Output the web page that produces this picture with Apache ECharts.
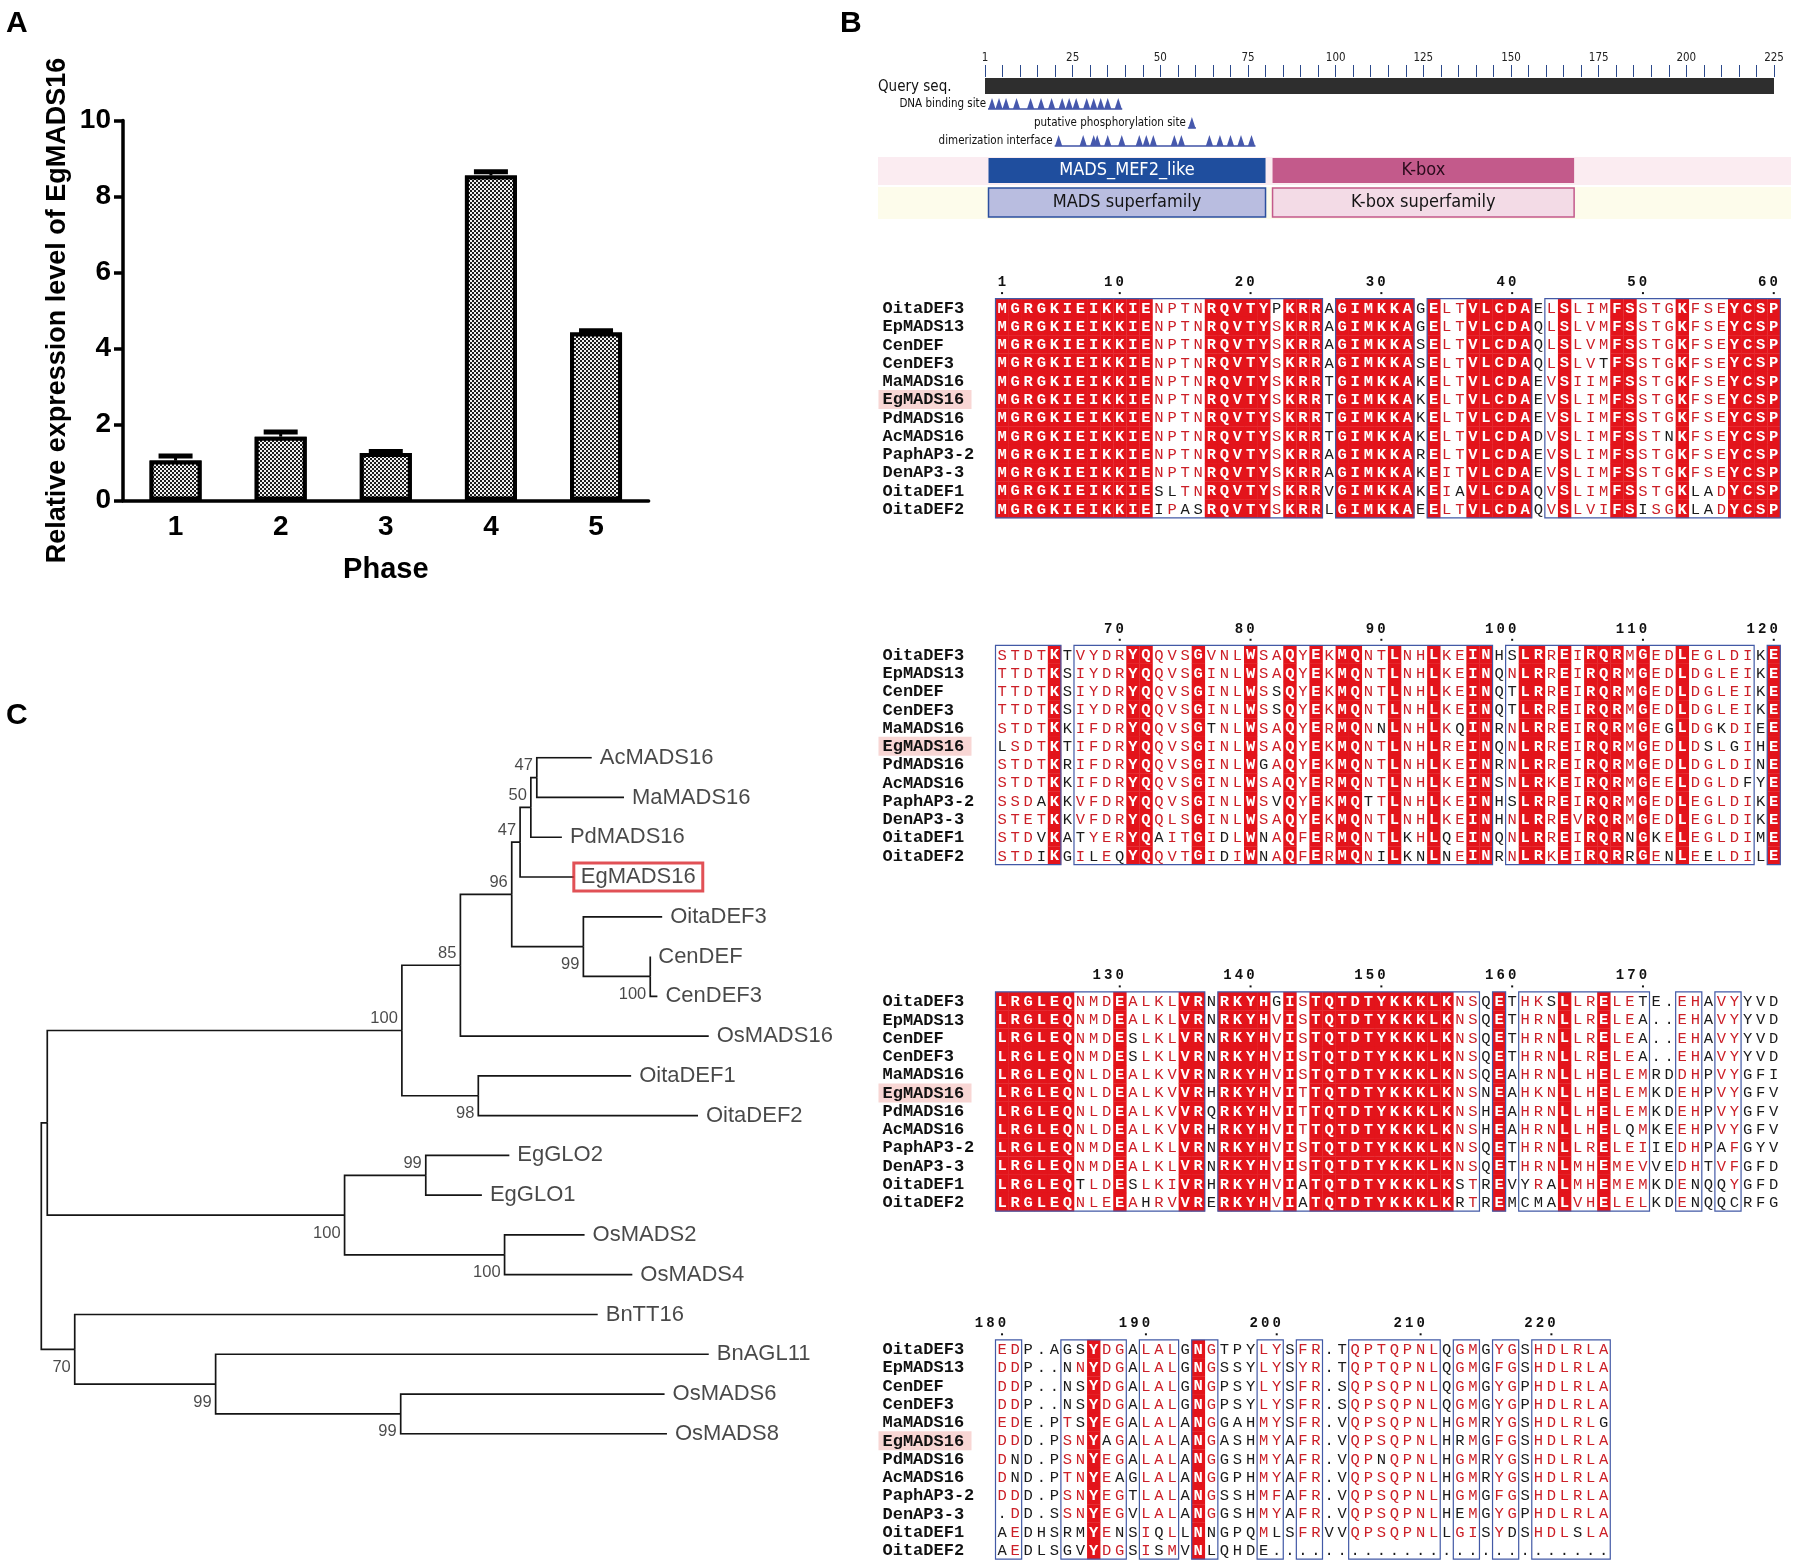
<!DOCTYPE html>
<html lang="en">
<head>
<meta charset="UTF-8">
<title>EgMADS16</title>
<script src="https://cdn.jsdelivr.net/npm/echarts@6.0.0/dist/echarts.min.js"></script>
<style>
    *{
        margin: 0;
        padding: 0;
    }
    body{
        width: 1800px;
        height: 1567px;
        overflow: hidden;
        background: #fff;
    }
    .container{
        width: 1800px;
        height: 1567px;
    }
</style>
</head>
<body>
<div class="container"></div>
<script>
    // ---------- A: relative expression ----------
    const phases = ['1', '2', '3', '4', '5'];
    const expression = [1.05, 1.68, 1.25, 8.55, 4.42];
    const expressionErr = [0.12, 0.12, 0.04, 0.10, 0.05];

    // ---------- B: conserved domains ----------
    const queryLength = 225;
    const dnaBindingSites = [2, 4, 6, 9, 13, 16, 19, 22, 24, 26, 29, 31, 33, 35, 38];
    const phosphoSites = [59];
    const dimerSites = [21, 28, 31, 32, 35, 39, 44, 46, 48, 54, 56, 64, 67, 70, 73, 76];
    const specificHits = [['MADS_MEF2_like', 1, 80], ['K-box', 82, 168]];
    const superfamilies = [['MADS superfamily', 1, 80], ['K-box superfamily', 82, 168]];

    // ---------- B: alignment ----------
    const seqNames = ['OitaDEF3', 'EpMADS13', 'CenDEF', 'CenDEF3', 'MaMADS16', 'EgMADS16',
        'PdMADS16', 'AcMADS16', 'PaphAP3-2', 'DenAP3-3', 'OitaDEF1', 'OitaDEF2'];
    const highlightSeq = 'EgMADS16';

    const block1 = [
        'MGRGKIEIKKIENPTNRQVTYPKRRAGIMKKAGELTVLCDAELSLIMFSSTGKFSEYCSP',
        'MGRGKIEIKKIENPTNRQVTYSKRRAGIMKKAGELTVLCDAQLSLVMFSSTGKFSEYCSP',
        'MGRGKIEIKKIENPTNRQVTYSKRRAGIMKKASELTVLCDAQLSLVMFSSTGKFSEYCSP',
        'MGRGKIEIKKIENPTNRQVTYSKRRAGIMKKASELTVLCDAQLSLVTFSSTGKFSEYCSP',
        'MGRGKIEIKKIENPTNRQVTYSKRRTGIMKKAKELTVLCDAEVSIIMFSSTGKFSEYCSP',
        'MGRGKIEIKKIENPTNRQVTYSKRRTGIMKKAKELTVLCDAEVSLIMFSSTGKFSEYCSP',
        'MGRGKIEIKKIENPTNRQVTYSKRRTGIMKKAKELTVLCDAEVSLIMFSSTGKFSEYCSP',
        'MGRGKIEIKKIENPTNRQVTYSKRRTGIMKKAKELTVLCDADVSLIMFSSTNKFSEYCSP',
        'MGRGKIEIKKIENPTNRQVTYSKRRAGIMKKARELTVLCDAEVSLIMFSSTGKFSEYCSP',
        'MGRGKIEIKKIENPTNRQVTYSKRRAGIMKKAKEITVLCDAEVSLIMFSSTGKFSEYCSP',
        'MGRGKIEIKKIESLTNRQVTYSKRRVGIMKKAKEIAVLCDAQVSLIMFSSTGKLADYCSP',
        'MGRGKIEIKKIEIPASRQVTYSKRRLGIMKKAEELTVLCDAQVSLVIFSISGKLADYCSP'
    ];
    const block2 = [
        'STDTKTVYDRYQQVSGVNLWSAQYEKMQNTLNHLKEINHSLRREIRQRMGEDLEGLDIKE',
        'TTDTKSIYDRYQQVSGINLWSAQYEKMQNTLNHLKEINQNLRREIRQRMGEDLDGLEIKE',
        'TTDTKSIYDRYQQVSGINLWSSQYEKMQNTLNHLKEINQTLRREIRQRMGEDLDGLEIKE',
        'TTDTKSIYDRYQQVSGINLWSSQYEKMQNTLNHLKEINQTLRREIRQRMGEDLDGLEIKE',
        'STDTKKIFDRYQQVSGTNLWSAQYERMQNNLNHLKQINRNLRREIRQRMGEGLDGKDIEE',
        'LSDTKTIFDRYQQVSGINLWSAQYEKMQNTLNHLREINQNLRREIRQRMGEDLDSLGIHE',
        'STDTKRIFDRYQQVSGINLWGAQYEKMQNTLNHLKEINRNLRREIRQRMGEDLDGLDINE',
        'STDTKKIFDRYQQVSGINLWSAQYERMQNTLNHLKEINSNLRKEIRQRMGEELDGLDFYE',
        'SSDAKKVFDRYQQVSGINLWSVQYEKMQTTLNHLKEINHSLRREIRQRMGEDLEGLDIKE',
        'STETKKVFDRYQQLSGINLWSAQYEKMQNTLNHLKEINHNLRREVRQRMGEDLEGLDIKE',
        'STDVKATYERYQAITGIDLWNAQFERMQNTLKHLQEINQNLRREIRQRNGKELEGLDIME',
        'STDIKGILEQYQQVTGIDIWNAQFERMQNILKNLNEINRNLRKEIRQRRGENLEELDILE'
    ];
    const block3 = [
        'LRGLEQNMDEALKLVRNRKYHGISTQTDTYKKKLKNSQETHKSLLRELETE.EHAVYYVD',
        'LRGLEQNMDEALKLVRNRKYHVISTQTDTYKKKLKNSQETHRNLLRELEA..EHAVYYVD',
        'LRGLEQNMDESLKLVRNRKYHVISTQTDTYKKKLKNSQETHRNLLRELEA..EHAVYYVD',
        'LRGLEQNMDESLKLVRNRKYHVISTQTDTYKKKLKNSQETHRNLLRELEA..EHAVYYVD',
        'LRGLEQNLDEALKVVRNRKYHVISTQTDTYKKKLKNSQEAHRNLLHELEMRDDHPVYGFI',
        'LRGLEQNLDEALKVVRHRKYHVITTQTDTYKKKLKNSNEAHKNLLHELEMKDEHPVYGFV',
        'LRGLEQNLDEALKVVRQRKYHVITTQTDTYKKKLKNSHEAHRNLLHELEMKDEHPVYGFV',
        'LRGLEQNLDEALKVVRHRKYHVITTQTDTYKKKLKNSHEAHRNLLHELQMKEEHPVYGFV',
        'LRGLEQNMDEALKLVRNRKYHVISTQTDTYKKKLKNSQETHRNLLRELEIIEDHPAFGYV',
        'LRGLEQNMDEALKLVRNRKYHVISTQTDTYKKKLKNSQETHRNLMHEMEVVEDHTVFGFD',
        'LRGLEQTLDESLKIVRHRKYHVIATQTDTYKKKLKSTREVYRALMHEMEMKDENQQYGFD',
        'LRGLEQNLEEAHRVVRERKYHVIATQTDTYKKKLKRTREMCMALVHELELKDENQQCRFG'
    ];
    const block4 = [
        'EDP.AGSYDGALALGNGTPYLYSFR.TQPTQPNLQGMGYGSHDLRLA',
        'DDP..NNYDGALALGNGSSYLYSYR.TQPTQPNLQGMGFGSHDLRLA',
        'DDP..NSYDGALALGNGPSYLYSFR.SQPSQPNLQGMGYGPHDLRLA',
        'DDP..NSYDGALALGNGPSYLYSFR.SQPSQPNLQGMGYGPHDLRLA',
        'EDE.PTSYEGALALANGGAHMYSFR.VQPSQPNLHGMRYGSHDLRLG',
        'DDD.PSNYAGALALANGASHMYAFR.VQPSQPNLHRMGFGSHDLRLA',
        'DND.PSNYEGALALANGGSHMYAFR.VQPNQPNLHGMRYGSHDLRLA',
        'DND.PTNYEAGLALANGGPHMYAFR.VQPSQPNLHGMRYGSHDLRLA',
        'DDD.PSNYEGTLALANGSSHMFAFR.VQPSQPNLHGMGFGSHDLRLA',
        '.DD.SSNYEGVLALANGGSHMYAFR.VQPSQPNLHEMGYGPHDLRLA',
        'AEDHSRMYENSIQLLNNGPQMLSFRVVQPSQPNLLGISYDSHDLSLA',
        'AEDLSGVYDGSISMVNLQHDE..........................'
    ];
    // x = column inside a framed (similarity) box
    const boxMask1 = 'xxxxxxxxxxxxxxxxxxxxxxxxx-xxxxxx-xxxxxxxx-xxxxxxxxxxxxxxxxxx';
    const boxMask2 = 'xxxxx-xxxxxxxxxxxxxxxxxxxxxxxxxxxxxxxx-xxxxxxxxxxxxxxxxxxx-x';
    const boxMask3 = 'xxxxxxxxxxxxxxxx-xxxxxxxxxxxxxxxxxxxx-x-xxxxxxxxxx--xx-xx---';
    const boxMask4 = 'xx---xxxxx-xxx-xx---xx-xx--xxxxxxx-xx-xx-xxxxxx';

    // ---------- C: phylogenetic tree (name, parent, branch length, bootstrap) ----------
    const treeNodes = [
        ['root', '', 0, ''],
        ['nA', 'root', 0.005, ''],
        ['n70', 'root', 0.028, '70'],
        ['nDEF', 'nA', 0.297, '100'],
        ['nGLO', 'nA', 0.249, '100'],
        ['n85', 'nDEF', 0.049, '85'],
        ['n98', 'nDEF', 0.064, '98'],
        ['n96', 'n85', 0.043, '96'],
        ['OsMADS16', 'n85', 0.208, ''],
        ['n47b', 'n96', 0.007, '47'],
        ['n99a', 'n96', 0.060, '99'],
        ['n50', 'n47b', 0.009, '50'],
        ['EgMADS16', 'n47b', 0.045, ''],
        ['n47a', 'n50', 0.005, '47'],
        ['PdMADS16', 'n50', 0.026, ''],
        ['AcMADS16', 'n47a', 0.046, ''],
        ['MaMADS16', 'n47a', 0.073, ''],
        ['OitaDEF3', 'n99a', 0.066, ''],
        ['n100b', 'n99a', 0.056, '100'],
        ['CenDEF', 'n100b', 0.000, ''],
        ['CenDEF3', 'n100b', 0.006, ''],
        ['OitaDEF1', 'n98', 0.128, ''],
        ['OitaDEF2', 'n98', 0.184, ''],
        ['n99c', 'nGLO', 0.068, '99'],
        ['n100d', 'nGLO', 0.134, '100'],
        ['EgGLO2', 'n99c', 0.070, ''],
        ['EgGLO1', 'n99c', 0.047, ''],
        ['OsMADS2', 'n100d', 0.067, ''],
        ['OsMADS4', 'n100d', 0.107, ''],
        ['BnTT16', 'n70', 0.438, ''],
        ['n99d', 'n70', 0.118, '99'],
        ['BnAGL11', 'n99d', 0.413, ''],
        ['n99e', 'n99d', 0.155, '99'],
        ['OsMADS6', 'n99e', 0.221, ''],
        ['OsMADS8', 'n99e', 0.223, '']
    ];
    const scaleBarLength = 0.1;

    // =====================================================================
    let container = document.querySelector('.container');
    let mycharts = echarts.init(container, null, {renderer: 'canvas'});

    const RED = '#e3141b';
    const RED_TXT = '#cc1f27';
    const BOX = '#4259a6';
    const MONO = '"Liberation Mono", "DejaVu Sans Mono", monospace';
    const SANS = '"Liberation Sans", Arial, sans-serif';
    const COND = '"DejaVu Sans Condensed", "Liberation Sans Narrow", "DejaVu Sans", sans-serif';

    let grids = [], xAxes = [], yAxes = [], series = [];

    // ---------- panel A ----------
    grids.push({left: 123, top: 120.5, width: 525.6, height: 380});
    xAxes.push({
        gridIndex: 0, type: 'category', data: phases,
        axisLine: {lineStyle: {color: '#000', width: 3.5}},
        axisTick: {alignWithLabel: true, length: 9, lineStyle: {color: '#000', width: 3.5}},
        axisLabel: {fontSize: 28, fontWeight: 'bold', color: '#000', margin: 13, fontFamily: SANS},
        name: 'Phase', nameLocation: 'middle', nameGap: 55,
        nameTextStyle: {fontSize: 29, fontWeight: 'bold', color: '#000', fontFamily: SANS}
    });
    yAxes.push({
        gridIndex: 0, type: 'value', min: 0, max: 10, interval: 2,
        axisLine: {show: true, lineStyle: {color: '#000', width: 3.5}},
        axisTick: {show: true, length: 9, lineStyle: {color: '#000', width: 3.5}},
        axisLabel: {fontSize: 28, fontWeight: 'bold', color: '#000', margin: 12, fontFamily: SANS},
        splitLine: {show: false},
        name: 'Relative expression level of EgMADS16', nameLocation: 'middle', nameRotate: 90, nameGap: 52,
        nameTextStyle: {fontSize: 27, fontWeight: 'bold', color: '#000', fontFamily: SANS}
    });
    series.push({
        type: 'bar', xAxisIndex: 0, yAxisIndex: 0, data: expression, barWidth: 52,
        itemStyle: {
            color: '#1e1e1e', borderColor: '#000', borderWidth: 4,
            decal: {
                symbol: 'rect', symbolSize: 1, color: '#f2f2f2',
                dashArrayX: [[2, 2], [0, 2, 2, 0]], dashArrayY: [2, 0]
            }
        }
    });
    series.push({
        type: 'custom', xAxisIndex: 0, yAxisIndex: 0, z: 5,
        data: expression.map((v, i) => [i, v, expressionErr[i]]),
        renderItem: function (params, api) {
            let base = api.coord([api.value(0), api.value(1)]);
            let top = api.coord([api.value(0), api.value(1) + api.value(2)]);
            return {
                type: 'group', children: [
                    {type: 'line', shape: {x1: base[0], y1: base[1], x2: top[0], y2: top[1]}, style: {stroke: '#000', lineWidth: 3}},
                    {type: 'rect', shape: {x: top[0] - 17, y: top[1] - 2.5, width: 34, height: 5}, style: {fill: '#000'}}
                ]
            };
        }
    });

    // ---------- panel B: domain graphic ----------
    grids.push({left: 985, top: 77, width: 789, height: 142});
    xAxes.push({
        gridIndex: 1, type: 'value', min: 0, max: queryLength, interval: 25, position: 'top',
        axisLine: {show: false},
        axisTick: {show: true, length: 12, lineStyle: {color: '#2c4a8c', width: 1}},
        minorTick: {show: true, splitNumber: 5, length: 12, lineStyle: {color: '#2c4a8c', width: 1}},
        axisLabel: {formatter: v => v === 0 ? '1' : String(v), margin: 13, fontSize: 11.5, color: '#222', fontFamily: COND},
        splitLine: {show: false}
    });
    yAxes.push({gridIndex: 1, type: 'value', min: 0, max: 142, inverse: true, show: false});

    // background bands and query bar
    series.push({
        type: 'custom', xAxisIndex: 1, yAxisIndex: 1, data: [[0, queryLength]],
        renderItem: function (params, api) {
            let x0 = api.coord([0, 0])[0], x1 = api.coord([api.value(1), 0])[0];
            let y = o => api.coord([0, o])[1];
            return {
                type: 'group', children: [
                    {type: 'rect', shape: {x: x0 - 107, y: y(80), width: x1 - x0 + 124, height: y(108) - y(80)}, style: {fill: '#fbecf1'}},
                    {type: 'rect', shape: {x: x0 - 107, y: y(110), width: x1 - x0 + 124, height: y(142) - y(110)}, style: {fill: '#fdfceb'}},
                    {type: 'rect', shape: {x: x0, y: y(1), width: x1 - x0, height: y(17) - y(1)}, style: {fill: '#2e2e2e'}}
                ]
            };
        }
    });

    // site tracks
    const siteTracks = [
        ['DNA binding site', dnaBindingSites],
        ['putative phosphorylation site', phosphoSites],
        ['dimerization interface', dimerSites]
    ];
    const trackTop = [21, 40, 58];
    series.push({
        type: 'custom', xAxisIndex: 1, yAxisIndex: 1,
        data: siteTracks.map((t, i) => [t[1][0], i]),
        renderItem: function (params, api) {
            let t = siteTracks[params.dataIndex];
            let top = api.coord([0, trackTop[params.dataIndex]])[1];
            let bot = top + 11;
            let xs = t[1].map(s => api.coord([s, 0])[0]);
            let ch = [];
            ch.push({type: 'line', shape: {x1: xs[0] - 4, y1: bot, x2: xs[xs.length - 1] + 4, y2: bot}, style: {stroke: '#3f52a6', lineWidth: 1.5}});
            xs.forEach(x => {
                ch.push({type: 'polygon', shape: {points: [[x - 3.6, bot], [x, top], [x + 3.6, bot]]}, style: {fill: '#4658ad'}});
            });
            ch.push({type: 'text', x: xs[0] - 6, y: (top + bot) / 2 + 1,
                style: {text: t[0], font: '11.5px ' + COND, fill: '#111', align: 'right', verticalAlign: 'middle'}});
            return {type: 'group', children: ch};
        }
    });

    // domain hits
    const hitRows = [specificHits, superfamilies];
    const hitRowY = [[81, 106], [111, 140]];
    const hitStyles = [
        [{fill: '#1f4e9e', text: '#ffffff', stroke: null}, {fill: '#c35a8b', text: '#2a0b1c', stroke: null}],
        [{fill: '#b9bde0', text: '#151515', stroke: '#2b4f9e'}, {fill: '#f3dbe6', text: '#151515', stroke: '#c35a8b'}]
    ];
    let hitData = [];
    hitRows.forEach((row, r) => row.forEach((h, k) => hitData.push([h[1], h[2], r, k])));
    series.push({
        type: 'custom', xAxisIndex: 1, yAxisIndex: 1, data: hitData,
        renderItem: function (params, api) {
            let r = api.value(2), k = api.value(3);
            let p0 = api.coord([api.value(0), hitRowY[r][0]]);
            let p1 = api.coord([api.value(1), hitRowY[r][1]]);
            let st = hitStyles[r][k];
            let label = hitRows[r][k][0];
            return {
                type: 'group', children: [
                    {type: 'rect', shape: {x: p0[0], y: p0[1], width: p1[0] - p0[0], height: p1[1] - p0[1]},
                        style: {fill: st.fill, stroke: st.stroke, lineWidth: st.stroke ? 1.5 : 0}},
                    {type: 'text', x: (p0[0] + p1[0]) / 2, y: (p0[1] + p1[1]) / 2,
                        style: {text: label, font: '18px ' + COND, fill: st.text, align: 'center', verticalAlign: 'middle'}}
                ]
            };
        }
    });

    // ---------- panel B: alignment ----------
    const alnBlocks = [block1, block2, block3, block4];
    const alnMasks = [boxMask1, boxMask2, boxMask3, boxMask4];
    const alnTop = [298.6, 645.3, 991.9, 1339.8];
    const alnLeft = 995.5, colW = 13.08, rowH = 18.27;

    const simGroups = ['ILVM', 'FYW', 'KRH', 'DE', 'NQ', 'ST'];
    function groupOf(ch) {
        for (let i = 0; i < simGroups.length; i++) {
            if (simGroups[i].indexOf(ch) >= 0) return 'g' + i;
        }
        return 'x' + ch;
    }
    function buildCells(block, mask) {
        let out = [];
        for (let c = 0; c < block[0].length; c++) {
            let col = block.map(s => s[c]);
            let letters = col.filter(ch => ch !== '.');
            let inBox = mask[c] === 'x';
            let identical = letters.length === col.length && letters.every(ch => ch === letters[0]);
            let cnt = {};
            letters.forEach(ch => { let g = groupOf(ch); cnt[g] = (cnt[g] || 0) + 1; });
            let best = null, bc = 0;
            for (let g in cnt) { if (cnt[g] > bc) { bc = cnt[g]; best = g; } }
            col.forEach((ch, r) => {
                let k = 0;
                if (ch !== '.' && inBox) {
                    if (identical) k = 2;
                    else if (groupOf(ch) === best) k = 1;
                }
                out.push({c: c, r: r, ch: ch, k: k});
            });
        }
        return out;
    }
    function boxRuns(mask) {
        let runs = [], s = -1;
        for (let i = 0; i <= mask.length; i++) {
            if (mask[i] === 'x') { if (s < 0) s = i; }
            else if (s >= 0) { runs.push([s, i - 1]); s = -1; }
        }
        return runs;
    }
    // ruler numbered on the first sequence
    let rulerTicks = [], resNo = 0;
    alnBlocks.forEach((blk, b) => {
        rulerTicks[b] = [];
        for (let c = 0; c < blk[0].length; c++) {
            if (blk[0][c] !== '.') {
                resNo++;
                if (resNo === 1 || resNo % 10 === 0) rulerTicks[b].push([c, -0.5, resNo]);
            }
        }
    });

    alnBlocks.forEach((blk, b) => {
        let gi = 2 + b;
        grids.push({left: alnLeft, top: alnTop[b], width: 60 * colW, height: 12 * rowH});
        xAxes.push({gridIndex: gi, type: 'value', min: -0.5, max: 59.5, show: false});
        yAxes.push({gridIndex: gi, type: 'value', min: -0.5, max: 11.5, inverse: true, show: false});
        let cells = buildCells(blk, alnMasks[b]);

        series.push({
            type: 'custom', xAxisIndex: gi, yAxisIndex: gi,
            data: cells.map(c => [c.c, c.r]),
            renderItem: function (params, api) {
                let cell = cells[params.dataIndex];
                let p0 = api.coord([cell.c - 0.5, cell.r - 0.5]);
                let p1 = api.coord([cell.c + 0.5, cell.r + 0.5]);
                let ch = [];
                if (cell.k === 2) {
                    ch.push({type: 'rect', shape: {x: p0[0], y: p0[1], width: p1[0] - p0[0] + 0.3, height: p1[1] - p0[1] + 0.3}, style: {fill: RED}});
                }
                ch.push({
                    type: 'text', x: (p0[0] + p1[0]) / 2, y: (p0[1] + p1[1]) / 2 + 1,
                    style: {
                        text: cell.ch,
                        font: (cell.k === 2 ? 'bold ' : '') + '15.5px ' + MONO,
                        fill: cell.k === 2 ? '#ffffff' : (cell.k === 1 ? RED_TXT : '#1a1a1a'),
                        align: 'center', verticalAlign: 'middle'
                    }
                });
                return {type: 'group', children: ch};
            }
        });

        series.push({
            type: 'custom', xAxisIndex: gi, yAxisIndex: gi, z: 4,
            data: boxRuns(alnMasks[b]),
            renderItem: function (params, api) {
                let p0 = api.coord([api.value(0) - 0.5, -0.5]);
                let p1 = api.coord([api.value(1) + 0.5, 11.5]);
                return {type: 'rect', shape: {x: p0[0], y: p0[1], width: p1[0] - p0[0], height: p1[1] - p0[1]},
                    style: {fill: null, stroke: BOX, lineWidth: 1.2}};
            }
        });

        series.push({
            type: 'custom', xAxisIndex: gi, yAxisIndex: gi,
            data: rulerTicks[b],
            renderItem: function (params, api) {
                let p = api.coord([api.value(0), -0.5]);
                let label = String(api.value(2));
                let ch = [];
                for (let k = 0; k < label.length; k++) {
                    ch.push({type: 'text', x: p[0] - k * 11.5, y: p[1] - 16,
                        style: {text: label[label.length - 1 - k], font: 'bold 14px ' + MONO, fill: '#111', align: 'center', verticalAlign: 'middle'}});
                }
                ch.push({type: 'rect', shape: {x: p[0] - 1, y: p[1] - 6.5, width: 2, height: 2}, style: {fill: '#111'}});
                return {type: 'group', children: ch};
            }
        });

        series.push({
            type: 'custom', xAxisIndex: gi, yAxisIndex: gi,
            data: seqNames.map((n, i) => [-0.5, i]),
            renderItem: function (params, api) {
                let i = params.dataIndex;
                let p = api.coord([-0.5, i]);
                let x = p[0] - 113;
                let ch = [];
                if (seqNames[i] === highlightSeq) {
                    ch.push({type: 'rect', shape: {x: x - 4, y: p[1] - 9, width: 93, height: 19}, style: {fill: '#f8d6d4'}});
                }
                ch.push({type: 'text', x: x, y: p[1] + 1,
                    style: {text: seqNames[i], font: 'bold 17px ' + MONO, fill: '#111', align: 'left', verticalAlign: 'middle'}});
                return {type: 'group', children: ch};
            }
        });
    });

    // ---------- panel C: tree ----------
    let nodeMap = {};
    treeNodes.forEach(n => { nodeMap[n[0]] = {name: n[0], parent: n[1], bl: n[2], boot: n[3], children: []}; });
    treeNodes.forEach(n => { if (n[1]) nodeMap[n[1]].children.push(nodeMap[n[0]]); });
    let leafIdx = 0;
    function layout(node, x) {
        node.x = x + node.bl;
        if (!node.children.length) {
            node.y = leafIdx++;
        } else {
            node.children.forEach(c => layout(c, node.x));
            node.y = (node.children[0].y + node.children[node.children.length - 1].y) / 2;
        }
    }
    layout(nodeMap.root, 0);

    let branchLines = [], leafPoints = [], bootPoints = [];
    treeNodes.forEach(n => {
        let node = nodeMap[n[0]];
        if (node.parent) {
            let par = nodeMap[node.parent];
            branchLines.push({coords: [[par.x, par.y], [par.x, node.y], [node.x, node.y]]});
            if (node.boot) {
                let upper = par.children[0] === node;
                bootPoints.push({value: [node.x, node.y], name: node.boot, label: {offset: [0, upper ? -12 : 18]}});
            }
        }
        if (!node.children.length) {
            let item = {value: [node.x, node.y], name: node.name};
            if (node.name === highlightSeq) {
                item.label = {distance: 0, borderColor: '#d9262c', borderWidth: 3, padding: [3, 7, 3, 7]};
            }
            leafPoints.push(item);
        }
    });

    let gt = 6;
    grids.push({left: 41.3, top: 757.7, width: 716.4, height: 676.1});
    xAxes.push({gridIndex: gt, type: 'value', min: 0, max: 0.6, show: false});
    yAxes.push({gridIndex: gt, type: 'value', min: 0, max: 17, inverse: true, show: false});
    series.push({
        type: 'lines', coordinateSystem: 'cartesian2d', xAxisIndex: gt, yAxisIndex: gt, polyline: true,
        data: branchLines, lineStyle: {color: '#151515', width: 1.7, opacity: 1}, silent: true
    });
    series.push({
        type: 'scatter', xAxisIndex: gt, yAxisIndex: gt, symbolSize: 0, data: leafPoints, silent: true,
        label: {show: true, position: 'right', distance: 8, formatter: '{b}', fontSize: 22, fontFamily: SANS, color: '#1a1a1a'}
    });
    series.push({
        type: 'scatter', xAxisIndex: gt, yAxisIndex: gt, symbolSize: 0, data: bootPoints, silent: true,
        label: {show: true, position: 'left', distance: 4, formatter: '{b}', fontSize: 16.5, fontFamily: SANS, color: '#1a1a1a'}
    });
    // scale bar
    const sbX = 0.071, sbY = 18.54;
    series.push({
        type: 'lines', coordinateSystem: 'cartesian2d', xAxisIndex: gt, yAxisIndex: gt, silent: true,
        data: [
            {coords: [[sbX, sbY], [sbX + scaleBarLength, sbY]]},
            {coords: [[sbX, sbY - 0.15], [sbX, sbY + 0.15]]},
            {coords: [[sbX + scaleBarLength, sbY - 0.15], [sbX + scaleBarLength, sbY + 0.15]]}
        ],
        lineStyle: {color: '#151515', width: 1.6, opacity: 1}
    });
    series.push({
        type: 'scatter', xAxisIndex: gt, yAxisIndex: gt, symbolSize: 0, silent: true,
        data: [{value: [sbX + scaleBarLength / 2, sbY], name: String(scaleBarLength)}],
        label: {show: true, position: 'bottom', distance: 10, formatter: '{b}', fontSize: 17, fontFamily: SANS, color: '#1a1a1a'}
    });

    let options = {
        animation: false,
        backgroundColor: '#ffffff',
        grid: grids,
        xAxis: xAxes,
        yAxis: yAxes,
        series,
        graphic: [
            {type: 'text', left: 6, top: 9, style: {text: 'A', font: 'bold 30px ' + SANS, fill: '#000'}},
            {type: 'text', left: 840, top: 9, style: {text: 'B', font: 'bold 30px ' + SANS, fill: '#000'}},
            {type: 'text', left: 6, top: 701, style: {text: 'C', font: 'bold 30px ' + SANS, fill: '#000'}},
            {type: 'text', left: 878, top: 80, style: {text: 'Query seq.', font: '15px ' + COND, fill: '#111'}},
            {type: 'text', left: 880, top: 160, style: {text: 'Specific hits', font: '16px ' + COND, fill: '#111'}},
            {type: 'text', left: 880, top: 192, style: {text: 'Superfamilies', font: '16px ' + COND, fill: '#111'}}
        ]
    };

    mycharts.setOption(options);
</script>
</body>
</html>
